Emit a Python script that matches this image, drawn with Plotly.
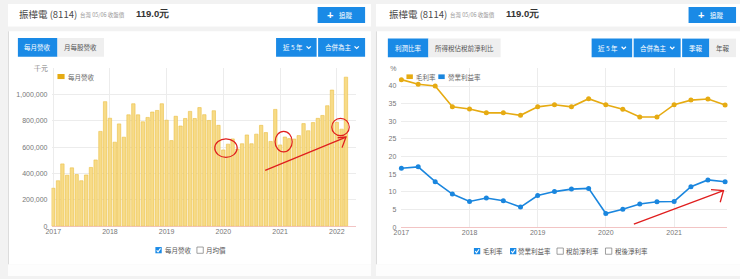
import plotly.graph_objects as go
import pandas as pd

W, H = 740, 279

# ---------------- data ----------------
months = pd.date_range("2017-01-01", "2022-03-01", freq="MS")
revenue = [289000, 346000, 474000, 388000, 444000, 393000, 346000, 390000, 447000, 504000,
           721000, 947000, 821000, 639000, 778000, 677000, 847000, 931000, 847000, 794000,
           827000, 868000, 880000, 931000, 806000, 651000, 836000, 762000, 819000, 873000,
           819000, 902000, 848000, 804000, 878000, 767000, 580000, 624000, 664000, 587000,
           627000, 694000, 627000, 700000, 767000, 712000, 645000, 888000, 618000, 678000,
           666000, 663000, 689000, 780000, 726000, 788000, 820000, 842000, 916000, 1035000,
           790000, 738000, 1133000]

quarters = pd.date_range("2017-01-01", "2021-10-01", freq="QS")
gross_margin = [41.8, 40.5, 40.0, 34.1, 33.5, 32.4, 32.4, 31.7, 34.1, 34.7,
                34.1, 36.4, 34.7, 33.4, 31.2, 31.2, 34.7, 36.0, 36.3, 34.6]
op_margin = [16.7, 17.1, 12.9, 9.4, 7.3, 8.3, 7.5, 5.7, 9.0, 10.1,
             10.8, 11.0, 3.9, 5.1, 6.6, 7.2, 7.3, 11.5, 13.4, 12.9]

rev_tickvals = [0, 200000, 400000, 600000, 800000, 1000000, 1200000]
rev_ticktext = ["0", "200,000", "400,000", "600,000", "800,000", "1,000,000", "千元"]
pct_tickvals = [0, 5, 10, 15, 20, 25, 30, 35, 40, 45]
pct_ticktext = ["0", "5", "10", "15", "20", "25", "30", "35", "40", "%"]

# ---------------- helpers ----------------
def X(px):
    return px / W

def Y(py):
    return 1 - py / H

BLUE = "#1a8ae6"
GOLD = "#e6ab12"
LBLUE = "#1a86de"
RED = "#e01e1e"
FONT = "Noto Sans CJK TC, Noto Sans, sans-serif"
NUMFONT = "Liberation Sans, Arial, sans-serif"

shapes = []
annotations = []

def rect(x0, y0, x1, y1, fill, line=None, layer="below", lw=0.8):
    shapes.append(dict(type="rect", xref="paper", yref="paper",
                       x0=X(x0), x1=X(x1), y0=Y(y1), y1=Y(y0),
                       fillcolor=fill, layer=layer,
                       line=dict(width=lw if line else 0, color=line or fill)))

def path(pts, color, width=1.0, layer="above"):
    d = "M " + " L ".join(f"{X(a):.5f},{Y(b):.5f}" for a, b in pts)
    shapes.append(dict(type="path", xref="paper", yref="paper", path=d, layer=layer,
                       line=dict(color=color, width=width)))

def ellipse(x0, y0, x1, y1, color, width=1.2):
    shapes.append(dict(type="circle", xref="paper", yref="paper",
                       x0=X(x0), x1=X(x1), y0=Y(y1), y1=Y(y0), layer="above",
                       line=dict(color=color, width=width)))

def text(x, y, s, size=6.5, color="#555", anchor="left", bold=False, family=FONT):
    if bold:
        s = "<b>" + s + "</b>"
    annotations.append(dict(xref="paper", yref="paper", x=X(x), y=Y(y), text=s,
                            showarrow=False, xanchor=anchor, yanchor="middle",
                            font=dict(size=size, color=color, family=family),
                            borderpad=0))

def chevron(cx, cy):
    path([(cx - 2.2, cy - 1.1), (cx, cy + 1.1), (cx + 2.2, cy - 1.1)], "white", 1.2)

def checkbox(x0, cy, checked):
    if checked:
        rect(x0, cy - 3.2, x0 + 6.4, cy + 3.2, BLUE, layer="above")
        path([(x0 + 1.3, cy + 0.1), (x0 + 2.7, cy + 1.7), (x0 + 5.2, cy - 1.9)], "white", 1.1)
    else:
        rect(x0, cy - 3.2, x0 + 6.4, cy + 3.2, "white", line="#777", layer="above", lw=0.7)

# ---------------- page layout ----------------
for (a, b) in [(0, 367), (372, 740)]:
    rect(a, 0, b, 23, "white")
    rect(a, 28, b, 267, "white")
rect(0, 267, 367, 279, "#fdfdfd")
rect(372, 267, 740, 279, "#fdfdfd")
path([(0.5, 28), (0.5, 267)], "#dcdcdc", 1, layer="below")
path([(372.5, 28), (372.5, 267)], "#dcdcdc", 1, layer="below")

# headers
for off, bx in [(0, 313), (374, 688)]:
    text(10 + off, 10, "振樺電 (8114)", size=9.5, color="#4a4a4a")
    text(72 + off, 11, "台灣 05/06 收盤價", size=5.5, color="#9a9a9a")
    text(128 + off, 10, "119.0元", size=9.5, color="#333", bold=True, family=NUMFONT)
    rect(bx, 3, bx + 48, 19.5, BLUE)
    text(bx + 13, 11, "+", size=11, color="white", anchor="center", bold=True, family=NUMFONT)
    text(bx + 29, 11, "追蹤", size=6.5, color="white", anchor="center")

# left buttons
rect(10, 35, 50, 54, BLUE)
text(30, 44.5, "每月營收", color="white", anchor="center")
rect(50, 35, 97, 54, "#efefef")
text(73.5, 44.5, "月每股營收", color="#555", anchor="center")
rect(271, 35, 312, 54, BLUE)
text(288, 44.5, "近 5 年", color="white", anchor="center")
chevron(304, 44.5)
rect(313.5, 35, 361, 54, BLUE)
text(334, 44.5, "合併為主", color="white", anchor="center")
chevron(352.5, 44.5)

# right buttons
rect(384, 35.5, 425, 54.5, BLUE)
text(404.5, 45, "利潤比率", color="white", anchor="center")
rect(425, 35.5, 498, 54.5, "#efefef")
text(461.5, 45, "所得稅佔稅前淨利比", color="#555", anchor="center")
rect(590, 35.5, 631, 54.5, BLUE)
text(607, 45, "近 5 年", color="white", anchor="center")
chevron(622.5, 45)
rect(632.5, 35.5, 680, 54.5, BLUE)
text(653, 45, "合併為主", color="white", anchor="center")
chevron(671.5, 45)
rect(681.5, 35.5, 709, 54.5, BLUE)
text(695.3, 45, "季報", color="white", anchor="center")
rect(709, 35.5, 736, 54.5, "#efefef")
text(722.5, 45, "年報", color="#555", anchor="center")

# in-chart legends
rect(50, 71.8, 57.2, 77, GOLD, layer="above")
text(60, 74.5, "每月營收", color="#666")
rect(402.8, 72.2, 409.3, 77, GOLD, layer="above")
text(411.5, 74.6, "毛利率", color="#666")
rect(435, 72.2, 441.5, 77, LBLUE, layer="above")
text(444, 74.6, "營業利益率", color="#666")

# bottom legends
checkbox(149, 252.5, True)
text(157.5, 252.8, "每月營收", color="#555")
checkbox(191, 252.5, False)
text(199.5, 252.8, "月均價", color="#555")
checkbox(471, 253.5, True)
text(479.5, 253.8, "毛利率", color="#555")
checkbox(507.5, 253.5, True)
text(514.5, 253.8, "營業利益率", color="#555")
checkbox(555, 253.5, False)
text(563, 253.8, "稅前淨利率", color="#555")
checkbox(604, 253.5, False)
text(612.5, 253.8, "稅後淨利率", color="#555")

# red hand-drawn marks
ellipse(209, 138.3, 231.7, 157.3, RED)
ellipse(270, 130.7, 287.3, 151.7, RED)
ellipse(327.3, 117.3, 345, 135, RED)
path([(260, 170.7), (341.7, 136.5)], RED, 1.3)
path([(333.3, 137.2), (341.7, 136.5), (337.7, 147.3)], RED, 1.3)
path([(632.7, 225.7), (723.3, 191.5)], RED, 1.3)
path([(710.7, 190.5), (723.3, 191.5), (720, 203.3)], RED, 1.3)

# ---------------- traces ----------------
fig = go.Figure()
fig.add_trace(go.Bar(x=months, y=revenue, xaxis="x", yaxis="y",
                     marker=dict(color="#f7db87", line=dict(color="#ebc045", width=0.6)),
                     hoverinfo="skip"))
fig.add_trace(go.Scatter(x=quarters, y=gross_margin, xaxis="x2", yaxis="y2",
                         mode="lines+markers", cliponaxis=False,
                         line=dict(color=GOLD, width=1.6), marker=dict(color=GOLD, size=5)))
fig.add_trace(go.Scatter(x=quarters, y=op_margin, xaxis="x2", yaxis="y2",
                         mode="lines+markers", cliponaxis=False,
                         line=dict(color=LBLUE, width=1.6), marker=dict(color=LBLUE, size=5)))

axis_common = dict(showgrid=True, gridcolor="#ececec", gridwidth=1, ticks="",
                   showline=False, tickfont=dict(size=7, color="#777", family=NUMFONT))

fig.update_layout(
    width=W, height=H, margin=dict(l=0, r=0, t=0, b=0),
    paper_bgcolor="#f2f2f2", plot_bgcolor="white",
    showlegend=False, bargap=0.22,
    font=dict(family=FONT),
    xaxis=dict(domain=[X(44), X(352)], anchor="y", type="date",
               range=["2016-12-21", "2022-05-06"], dtick="M12", tick0="2017-01-01",
               tickformat="%Y", **axis_common),
    yaxis=dict(domain=[Y(228), Y(66)], anchor="x", range=[0, 1200000],
               tickvals=rev_tickvals, ticktext=rev_ticktext, zeroline=True,
               zerolinecolor="#f2c4c4", zerolinewidth=1, ticklabelstandoff=3, **axis_common),
    xaxis2=dict(domain=[X(397.7), X(727)], anchor="y2", type="date",
                range=["2017-01-01", "2021-10-12"], dtick="M12", tick0="2017-01-01",
                tickformat="%Y", **axis_common),
    yaxis2=dict(domain=[Y(229), Y(66)], anchor="x2", range=[0, 45],
                tickvals=pct_tickvals, ticktext=pct_ticktext, zeroline=True,
                zerolinecolor="#f2c4c4", zerolinewidth=1, ticklabelstandoff=4, **axis_common),
    shapes=shapes, annotations=annotations,
)

fig.write_html("out.html")
